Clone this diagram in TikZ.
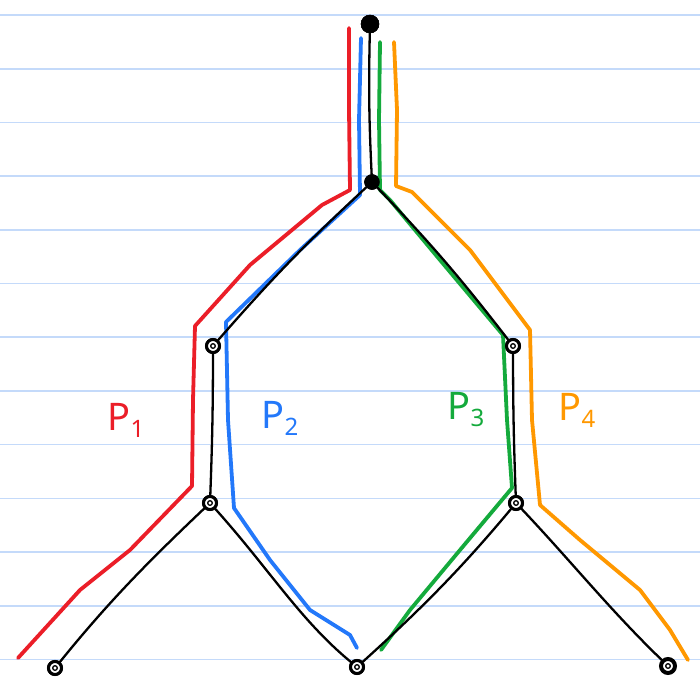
\documentclass[tikz,border=0pt]{standalone}
\usepackage{fontspec}
\setmainfont{Noto Sans}
\begin{document}
\begin{tikzpicture}[x=1pt,y=-1pt,
  ruling/.style={draw={rgb,255:red,196;green,218;blue,250},line width=1.6pt},
  filled/.style={circle,fill=black,draw=black,inner sep=0pt},
  ring/.style={circle,draw=black,fill=white,line width=3pt,inner sep=0pt,minimum size=13pt},
  inner/.style={draw=black,line width=1.3pt},
  edge/.style={draw=black,line width=2.3pt,line cap=round,line join=round},
  pathline/.style={line width=3.8pt,line cap=round,line join=round},
  lab/.style={font=\fontsize{38}{38}\selectfont,inner sep=0pt}]
\definecolor{pred}{RGB}{235,30,40}
\definecolor{pblue}{RGB}{35,120,250}
\definecolor{pgreen}{RGB}{20,170,60}
\definecolor{porange}{RGB}{255,152,0}
\useasboundingbox[fill=white] (0,0) rectangle (700,696);
\foreach \k in {0,...,12} { \draw[ruling] (0,15+53.7*\k) -- (700,15+53.7*\k); }
% nodes
\node[filled,minimum size=18pt] (top) at (370,24) {};
\node[filled,minimum size=15pt] (A) at (372,182) {};
\node[ring] (B) at (213,346) {};
\node[ring] (C) at (513,346) {};
\node[ring] (D) at (210,503) {};
\node[ring] (E) at (516,503) {};
\node[ring] (F) at (55,668) {};
\node[ring] (G) at (357,667) {};
\node[ring,minimum size=15pt] (H) at (668,666) {};
% coloured paths
\draw[pathline,pred] (349,28) -- (349,110) -- (350,190) -- (322,205) -- (250,265) -- (195,326) -- (193,400) -- (192,486) -- (130,550) -- (80,590) -- (18,658);
\draw[pathline,pblue] (361,38) -- (359,120) -- (360,195) -- (300,250) -- (226,322) -- (228,420) -- (234,508) -- (270,560) -- (310,610) -- (350,635) -- (357,648);
\draw[pathline,pgreen] (380,42) -- (379,120) -- (380,190) -- (390,200) -- (440,260) -- (503,335) -- (507,420) -- (512,488) -- (460,550) -- (410,610) -- (381,650);
\draw[pathline,porange] (394,42) -- (397,110) -- (396,186) -- (412,192) -- (470,250) -- (530,330) -- (532,420) -- (540,505) -- (580,540) -- (640,590) -- (670,630) -- (688,660);
% black edges
\draw[edge] (top) to[bend right=2] (A);
\draw[edge] (A) to[bend right=3] (B);
\draw[edge] (A) to[bend left=3] (C);
\draw[edge] (B) to[bend left=1] (D);
\draw[edge] (C) to[bend right=1] (E);
\draw[edge] (D) .. controls (150,560) and (110,600) .. (F);
\draw[edge] (D) .. controls (270,570) and (300,620) .. (G);
\draw[edge] (E) .. controls (460,570) and (420,610) .. (G);
\draw[edge] (E) .. controls (570,560) and (610,610) .. (H);
% redraw nodes on top
\foreach \n in {B,C,D,E,F,G,H} { \node[ring] at (\n) {}; \draw[inner] (\n) circle (2.3pt); }
\node[filled,minimum size=18pt] at (top) {};
\node[filled,minimum size=15pt] at (A) {};
% labels
\node[lab,pred] (l1) at (126,420) {P\raisebox{-7pt}{\fontsize{24}{24}\selectfont 1}};
\node[lab,pblue] (l2) at (280,418) {P\raisebox{-7pt}{\fontsize{24}{24}\selectfont 2}};
\node[lab,pgreen] (l3) at (466,410) {P\raisebox{-7pt}{\fontsize{24}{24}\selectfont 3}};
\node[lab,porange] (l4) at (577,410) {P\raisebox{-7pt}{\fontsize{24}{24}\selectfont 4}};
\end{tikzpicture}
\end{document}
